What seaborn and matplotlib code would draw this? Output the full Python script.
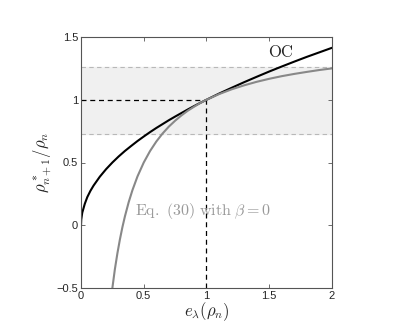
import matplotlib
matplotlib.use("Agg")
import matplotlib.pyplot as plt
import seaborn as sns

# values
oc_x = [0.0, 0.002, 0.01, 0.03, 0.05, 0.075, 0.1, 0.15, 0.2, 0.25, 0.3, 0.35, 0.4,
        0.45, 0.5, 0.55, 0.6, 0.65, 0.7, 0.75, 0.8, 0.85, 0.9, 0.95, 1.0, 1.1,
        1.2, 1.3, 1.4, 1.5, 1.6, 1.7, 1.8, 1.9, 2.0]
oc_y = [0.0, 0.045, 0.10, 0.17, 0.224, 0.274, 0.316, 0.387, 0.447, 0.50, 0.548,
        0.592, 0.632, 0.671, 0.707, 0.742, 0.775, 0.806, 0.837, 0.866, 0.894,
        0.922, 0.949, 0.975, 1.0, 1.049, 1.095, 1.14, 1.183, 1.225, 1.265, 1.304,
        1.342, 1.378, 1.414]
eq_x = [0.25, 0.27, 0.29, 0.31, 0.33, 0.35, 0.38, 0.41, 0.45, 0.5, 0.55, 0.6,
        0.65, 0.7, 0.75, 0.8, 0.85, 0.9, 0.95, 1.0, 1.1, 1.2, 1.3, 1.4, 1.5,
        1.6, 1.7, 1.8, 1.9, 2.0]
eq_y = [-0.5, -0.35, -0.224, -0.113, -0.015, 0.071, 0.184, 0.28, 0.389, 0.5,
        0.591, 0.667, 0.731, 0.786, 0.833, 0.875, 0.912, 0.944, 0.974, 1.0, 1.045,
        1.083, 1.115, 1.143, 1.167, 1.188, 1.206, 1.222, 1.237, 1.25]
band_lo, band_hi = 0.725, 1.262
xticks = [0, 0.5, 1, 1.5, 2]
yticks = [-0.5, 0, 0.5, 1, 1.5]

sns.set_style("ticks")
plt.rcParams['font.family'] = ['Liberation Sans', 'DejaVu Sans']
plt.rcParams['mathtext.fontset'] = 'cm'

fig = plt.figure(figsize=(4.06, 3.25), dpi=100)
ax = fig.add_axes([81/406, 1 - 288/325, 251/406, 251/325])

ax.axhspan(band_lo, band_hi, color='#f0f0f0', zorder=0)
ax.axhline(band_lo, color='#b8b8b8', ls='--', lw=0.8, dashes=(4, 3))
ax.axhline(band_hi, color='#b8b8b8', ls='--', lw=0.8, dashes=(4, 3))
ax.plot([0, 1], [1, 1], color='black', ls='--', lw=0.9, dashes=(4, 3))
ax.plot([1, 1], [-0.5, 1], color='black', ls='--', lw=0.9, dashes=(4, 3))

sns.lineplot(x=oc_x, y=oc_y, ax=ax, color='black', lw=1.5, sort=False)
sns.lineplot(x=eq_x, y=eq_y, ax=ax, color='#888888', lw=1.5, sort=False)

ax.text(1.59, 1.38, r'$\mathrm{OC}$', fontsize=12, ha='center', va='center')
ax.text(0.43, 0.11, r'$\mathrm{Eq.\ (30)\ with}\ \beta=0$', fontsize=11.5,
        color='#999999', ha='left', va='center')

ax.set_xlim(0, 2)
ax.set_ylim(-0.5, 1.5)
ax.set_xticks(xticks)
ax.set_xticklabels(['0', '0.5', '1', '1.5', '2'])
ax.set_yticks(yticks)
ax.set_yticklabels(['\u22120.5', '0', '0.5', '1', '1.5'])
ax.tick_params(direction='in', length=3, width=0.6, labelsize=8, top=True,
               right=True, pad=2, color='#555555')
for s in ax.spines.values():
    s.set_color('#555555')
    s.set_linewidth(0.8)

ax.set_xlabel(r'$e_\lambda(\rho_n)$', fontsize=12, labelpad=0)
ax.set_ylabel(r'$\rho^*_{n+1}/\rho_n$', fontsize=12, labelpad=2)

fig.savefig('out.png', dpi=100)
